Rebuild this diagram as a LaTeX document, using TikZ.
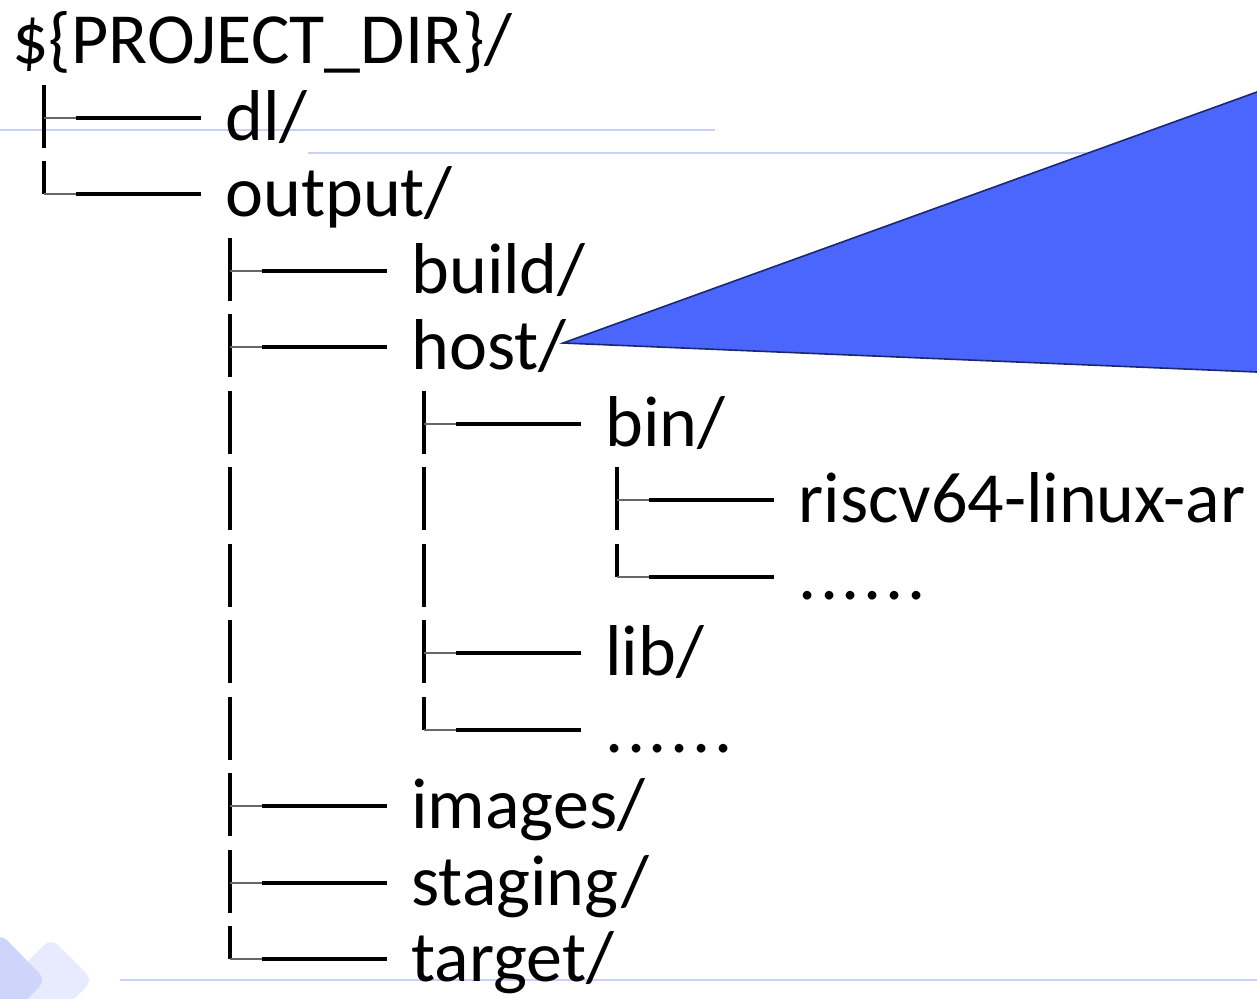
\documentclass[tikz,border=0pt]{standalone}
\usepackage{fontspec}
\setmainfont{Carlito}

\definecolor{guideblue}{RGB}{200,208,250}
\definecolor{calloutblue}{RGB}{74,102,252}
\definecolor{calloutedge}{RGB}{28,40,110}
\definecolor{tilelight}{RGB}{231,235,253}
\definecolor{tiledark}{RGB}{205,213,251}

\tikzset{
  item/.style={anchor=base west, inner sep=0pt, font=\fontsize{36}{43}\selectfont},
  more/.style={item, font=\fontsize{36}{43}\selectfont\addfontfeature{LetterSpace=5}},
  stem/.style={line width=1.6pt, black},
  twig/.style={line width=0.8pt, black!60},
  branch/.style={line width=2pt, black},
  guide/.style={line width=1pt, guideblue},
  callout/.style={fill=calloutblue, draw=calloutedge, line width=0.8pt, line join=miter},
}

\begin{document}
\begin{tikzpicture}[x=0.5pt,y=-0.5pt]
	\useasboundingbox (0,0) rectangle (1257,998);
	\clip (0,0) rectangle (1257,998);

	% Hintergrund: Kacheln unten links und helle Hilfslinien
	\fill[tilelight, rounded corners=5pt] (51,938) -- (93,980) -- (51,1022) -- (9,980) -- cycle;
	\fill[tiledark, rounded corners=5pt] (0,933) -- (46,980) -- (0,1027) -- (-46,980) -- cycle;
	\draw[guide] (0,130) -- (715,130);
	\draw[guide] (308,153) -- (1257,153);
	\draw[guide] (120,980) -- (1257,980);

	% Verzeichnisse, Grundlinie jeweils 22 unter der Astlinie
	\node[item] (root)    at ( 12, 63) {\$\{PROJECT\_DIR\}/};
	\node[item] (dl)      at (225,140) {dl/};
	\node[item] (output)  at (225,216) {output/};
	\node[item] (build)   at (411,293) {build/};
	\node[item] (host)    at (411,369) {host/};
	\node[item] (bin)     at (605,446) {bin/};
	\node[item] (riscv)   at (798,522) {riscv64-linux-ar};
	\node[more] (dotsa)   at (798,599) {......};
	\node[item] (lib)     at (605,675) {lib/};
	\node[more] (dotsb)   at (605,752) {......};
	\node[item] (images)  at (411,828) {images/};
	\node[item] (staging) at (411,905) {staging/};
	\node[item] (target)  at (411,981) {target/};

	% Stammpunkt jedes Eintrags (Lage der senkrechten Linie)
	\foreach \n in {dl,output,build,host,bin,riscv,dotsa,lib,dotsb,images,staging,target}
		\coordinate (\n-t) at ([shift={(-181,-22)}]\n.base west);

	% Verzweigungen
	\foreach \n in {dl,build,host,bin,riscv,lib,images,staging}
		\draw[stem] (\n-t) ++(0,-33) -- ++(0,63);
	\foreach \n in {output,dotsa,dotsb,target}
		\draw[stem] (\n-t) ++(0,-33) -- (\n-t);
	\foreach \n in {dl,output,build,host,bin,riscv,dotsa,lib,dotsb,images,staging,target}{
		\draw[twig] (\n-t) -- ++(32,0);
		\draw[branch] ([shift={(32,0)}]\n-t) -- ([shift={(-24,-22)}]\n.base west);
	}
	% durchlaufende Linien
	\foreach \a/\b in {host/bin,host/riscv,host/dotsa,host/lib,host/dotsb,bin/riscv,bin/dotsa}
		\draw[stem] (\a-t |- \b-t) ++(0,-33) -- ++(0,63);

	% Keil ab host/
	\coordinate (tip) at (563,343);
	\filldraw[callout] (tip) -- (1300,76.4) -- (1300,373.8) -- cycle;
\end{tikzpicture}
\end{document}
